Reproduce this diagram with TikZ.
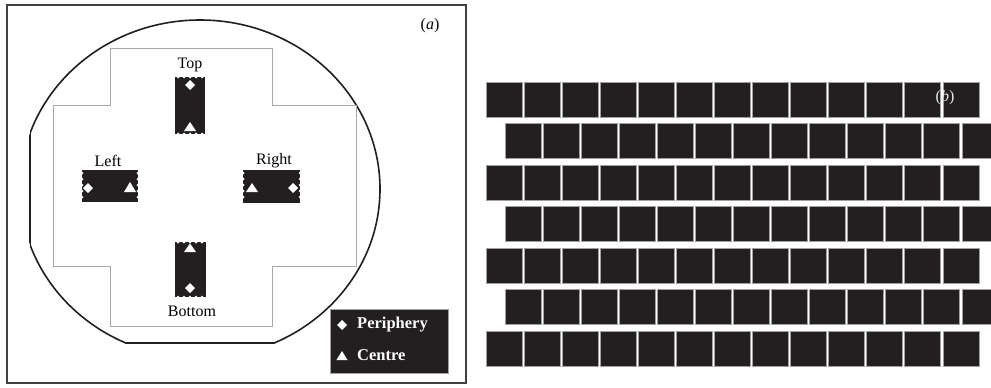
\documentclass[tikz,border=0pt]{standalone}
\usepackage{fontspec}
\setmainfont{Liberation Serif}
\definecolor{chipblack}{HTML}{231F20}
\definecolor{framegray}{HTML}{404040}
\definecolor{crossgray}{HTML}{A8A8A8}
\definecolor{brickedge}{HTML}{A0A0A0}
\begin{document}
\begin{tikzpicture}[x=1pt,y=-1pt,
  chipbox/.style={fill=chipblack,draw=none},
  notch/.style={fill=white,draw=none},
  wsym/.style={fill=white,draw=none},
  lbl/.style={font=\fontsize{16}{18}\selectfont,inner sep=0pt},
  legtxt/.style={font=\fontsize{16.5}{18}\selectfont\bfseries,text=white,inner sep=0pt,anchor=west},
  brick/.style={fill=chipblack,draw=brickedge,line width=0.9pt},
  wafer/.style={draw=chipblack,line width=1.6pt},
  flatline/.style={draw=chipblack,line width=2.6pt}]
\useasboundingbox (0,0) rectangle (991,388);
% ---------- panel (a) ----------
\draw[framegray,line width=1.3pt] (7,5) rectangle (466,383);
% wafer outline (ellipse with two flats)
\begin{scope}
  \clip (30,0) rectangle (470,343);
  \draw[wafer] (200,189) ellipse [x radius=180, y radius=169];
\end{scope}
\begin{scope}
  \clip (200,189) ellipse [x radius=180, y radius=169];
  \draw[flatline] (30,0) -- (30,388);
  \draw[flatline] (0,343) -- (470,343);
\end{scope}
% cross outline
\draw[crossgray,line width=1pt] (110,48) -- (272,48) -- (272,105) -- (356,105) -- (356,266)
  -- (272,266) -- (272,326) -- (110,326) -- (110,266) -- (53,266) -- (53,105) -- (110,105) -- cycle;
% Top chip
\fill[chipbox] (175,77) rectangle (205,134);
\foreach \x in {178,184,190,196,202} {\fill[notch] (\x,77) circle (1.5); \fill[notch] (\x,134) circle (1.5);}
\fill[wsym] (190,80) -- (195,85) -- (190,90) -- (185,85) -- cycle;
\fill[wsym] (184,131) -- (196,131) -- (190,122) -- cycle;
\node[lbl] (top) at (190,65) {Top};
% Bottom chip
\fill[chipbox] (175,242) rectangle (206,297);
\foreach \x in {178,184,190,196,202} {\fill[notch] (\x,242) circle (1.5); \fill[notch] (\x,297) circle (1.5);}
\fill[wsym] (184,252) -- (196,252) -- (190,243.5) -- cycle;
\fill[wsym] (190,283) -- (195,288) -- (190,293) -- (185,288) -- cycle;
\node[lbl] (bottom) at (192,311) {Bottom};
% Left chip
\fill[chipbox] (82,170) rectangle (138,202);
\foreach \y in {173,179,185,191,197} {\fill[notch] (82,\y) circle (1.5); \fill[notch] (138,\y) circle (1.5);}
\fill[wsym] (88,183) -- (93,188) -- (88,193) -- (83,188) -- cycle;
\fill[wsym] (124,192) -- (136,192) -- (130,182) -- cycle;
\node[lbl] (left) at (108,161) {Left};
% Right chip
\fill[chipbox] (243,170) rectangle (300,203);
\foreach \y in {173,179,185,191,197} {\fill[notch] (243,\y) circle (1.5); \fill[notch] (300,\y) circle (1.5);}
\fill[wsym] (246,192) -- (258,192) -- (252,183) -- cycle;
\fill[wsym] (293,183) -- (298,188) -- (293,193) -- (288,188) -- cycle;
\node[lbl] (right) at (274,161) {Right};
% legend
\fill[chipblack] (330,309) rectangle (448,373);
\draw[brickedge,line width=0.8pt] (330,309) rectangle (448,373);
\fill[wsym] (342,320) -- (347,325) -- (342,330) -- (337,325) -- cycle;
\fill[wsym] (336.5,360) -- (347.5,360) -- (342,351) -- cycle;
\node[legtxt] (periph) at (357,325) {Periphery};
\node[legtxt] (centre) at (357,355) {Centre};
\node[lbl] (labela) at (430,26) {(\textit{a})};
% ---------- panel (b) ----------
\foreach \r in {0,2,4,6} {
  \foreach \c in {0,...,12} {
    \draw[brick] ({486+38.08*\c},{82+41.5*\r}) rectangle +(36,35);
  }
}
\begin{scope}
  \clip (480,0) rectangle (991,388);
  \foreach \r in {1,3,5} {
    \foreach \c in {0,...,12} {
      \draw[brick] ({505+38.08*\c},{82+41.5*\r}) rectangle +(36,35);
    }
  }
\end{scope}
\node[lbl,text=white!85!gray] (labelb) at (945,98) {(\textit{b})};
\end{tikzpicture}
\end{document}
